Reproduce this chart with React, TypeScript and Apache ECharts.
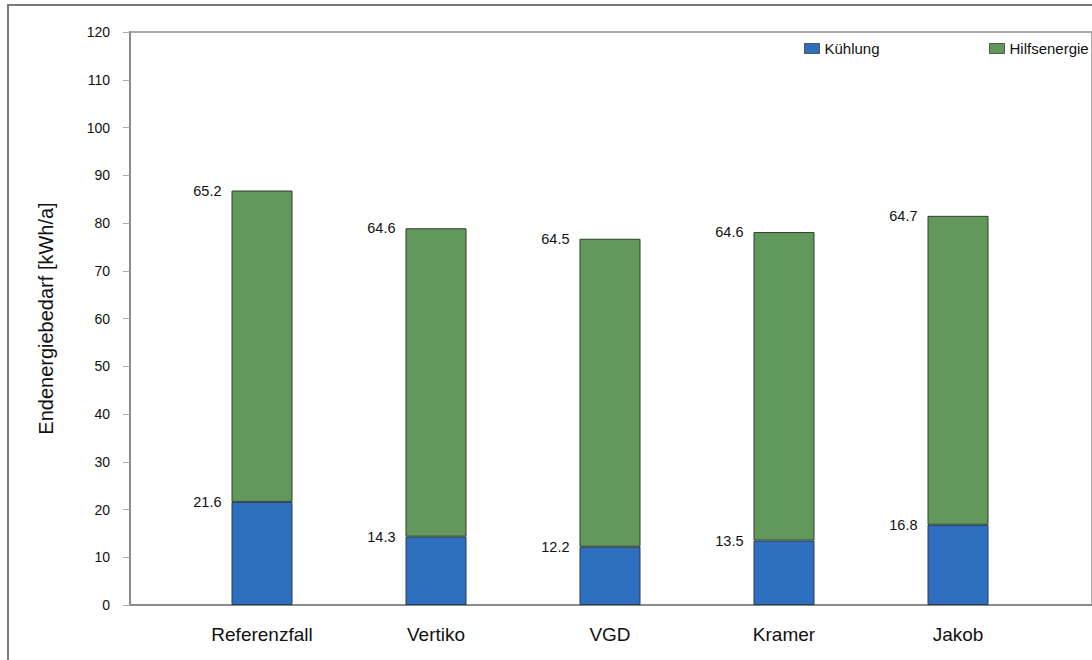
import React, { useEffect, useRef } from "react";
import * as echarts from "echarts";

const categories = ["Referenzfall", "Vertiko", "VGD", "Kramer", "Jakob"];
const kuehlung = [21.6, 14.3, 12.2, 13.5, 16.8];
const hilfsenergie = [65.2, 64.6, 64.5, 64.6, 64.7];
const seriesNames = ["Kühlung", "Hilfsenergie"];
const yAxisName = "Endenergiebedarf [kWh/a]";

const FONT = "'Liberation Sans', Arial, sans-serif";

export default function App() {
  const ref = useRef<HTMLDivElement>(null);
  useEffect(() => {
    if (!ref.current) return;
    const chart = echarts.init(ref.current, null, { renderer: "svg" });
    const label = {
      show: true,
      position: [-10, 0] as [number, number],
      align: "right",
      verticalAlign: "middle",
      color: "#111",
      fontSize: 14.5,
      fontFamily: FONT,
      formatter: (p: any) => Number(p.value).toFixed(1),
    };
    const legendText = { fontSize: 15, color: "#111", fontFamily: FONT };
    chart.setOption({
      animation: false,
      backgroundColor: "#fff",
      textStyle: { fontFamily: FONT },
      grid: [
        {
          left: 130,
          right: -2,
          top: 32,
          bottom: 55,
          show: true,
          borderColor: "#a8a8a8",
          borderWidth: 2,
        },
        {
          left: 175,
          width: 870,
          top: 32,
          bottom: 55,
        },
      ],
      legend: [
        {
          left: 799,
          top: 36,
          icon: "rect",
          itemWidth: 15,
          itemHeight: 10,
          itemGap: 8,
          textStyle: legendText,
          itemStyle: { borderColor: "#555", borderWidth: 1 },
          data: [seriesNames[0]],
        },
        {
          left: 984,
          top: 36,
          icon: "rect",
          itemWidth: 15,
          itemHeight: 10,
          textStyle: legendText,
          itemStyle: { borderColor: "#555", borderWidth: 1 },
          data: [seriesNames[1]],
        },
      ],
      xAxis: [
        {
          type: "value",
          gridIndex: 0,
          min: 0,
          max: 1,
          axisLine: { show: true, lineStyle: { color: "#8a8a8a", width: 2 } },
          axisTick: { show: false },
          splitLine: { show: false },
          axisLabel: { show: false },
        },
        {
          type: "category",
          gridIndex: 1,
          data: categories,
          axisLine: { show: false },
          axisTick: { show: false },
          splitLine: { show: false },
          axisLabel: {
            fontSize: 19,
            color: "#111",
            margin: 20,
            fontFamily: FONT,
          },
        },
      ],
      yAxis: [
        {
          type: "value",
          gridIndex: 0,
          min: 0,
          max: 120,
          interval: 10,
          name: yAxisName,
          nameLocation: "middle",
          nameGap: 74,
          nameTextStyle: { fontSize: 20, color: "#111", fontFamily: FONT },
          axisLine: { show: true, onZero: false, lineStyle: { color: "#8a8a8a", width: 2 } },
          axisTick: { show: true, length: 7, lineStyle: { color: "#aaa" } },
          splitLine: { show: false },
          axisLabel: { fontSize: 14, color: "#111", margin: 20, fontFamily: FONT },
        },
        {
          type: "value",
          gridIndex: 1,
          min: 0,
          max: 120,
          interval: 10,
          show: false,
          splitLine: { show: false },
        },
      ],
      series: [
        {
          name: seriesNames[0],
          type: "bar",
          stack: "total",
          xAxisIndex: 1,
          yAxisIndex: 1,
          barWidth: 61,
          data: kuehlung,
          itemStyle: { color: "#2f6fbf", borderColor: "#2b3a4a", borderWidth: 1 },
          label,
        },
        {
          name: seriesNames[1],
          type: "bar",
          stack: "total",
          xAxisIndex: 1,
          yAxisIndex: 1,
          barWidth: 61,
          data: hilfsenergie,
          itemStyle: { color: "#62985c", borderColor: "#2f3f2f", borderWidth: 1 },
          label,
        },
      ],
      graphic: [
        {
          type: "rect",
          shape: { x: 8, y: 5, width: 1100, height: 700 },
          style: { fill: "none", stroke: "#7a7a7a", lineWidth: 2 },
          silent: true,
        },
      ],
    });
    return () => chart.dispose();
  }, []);
  return (
    <div
      ref={ref}
      style={{ position: "fixed", left: 0, top: 0, width: 1092, height: 660 }}
    />
  );
}
